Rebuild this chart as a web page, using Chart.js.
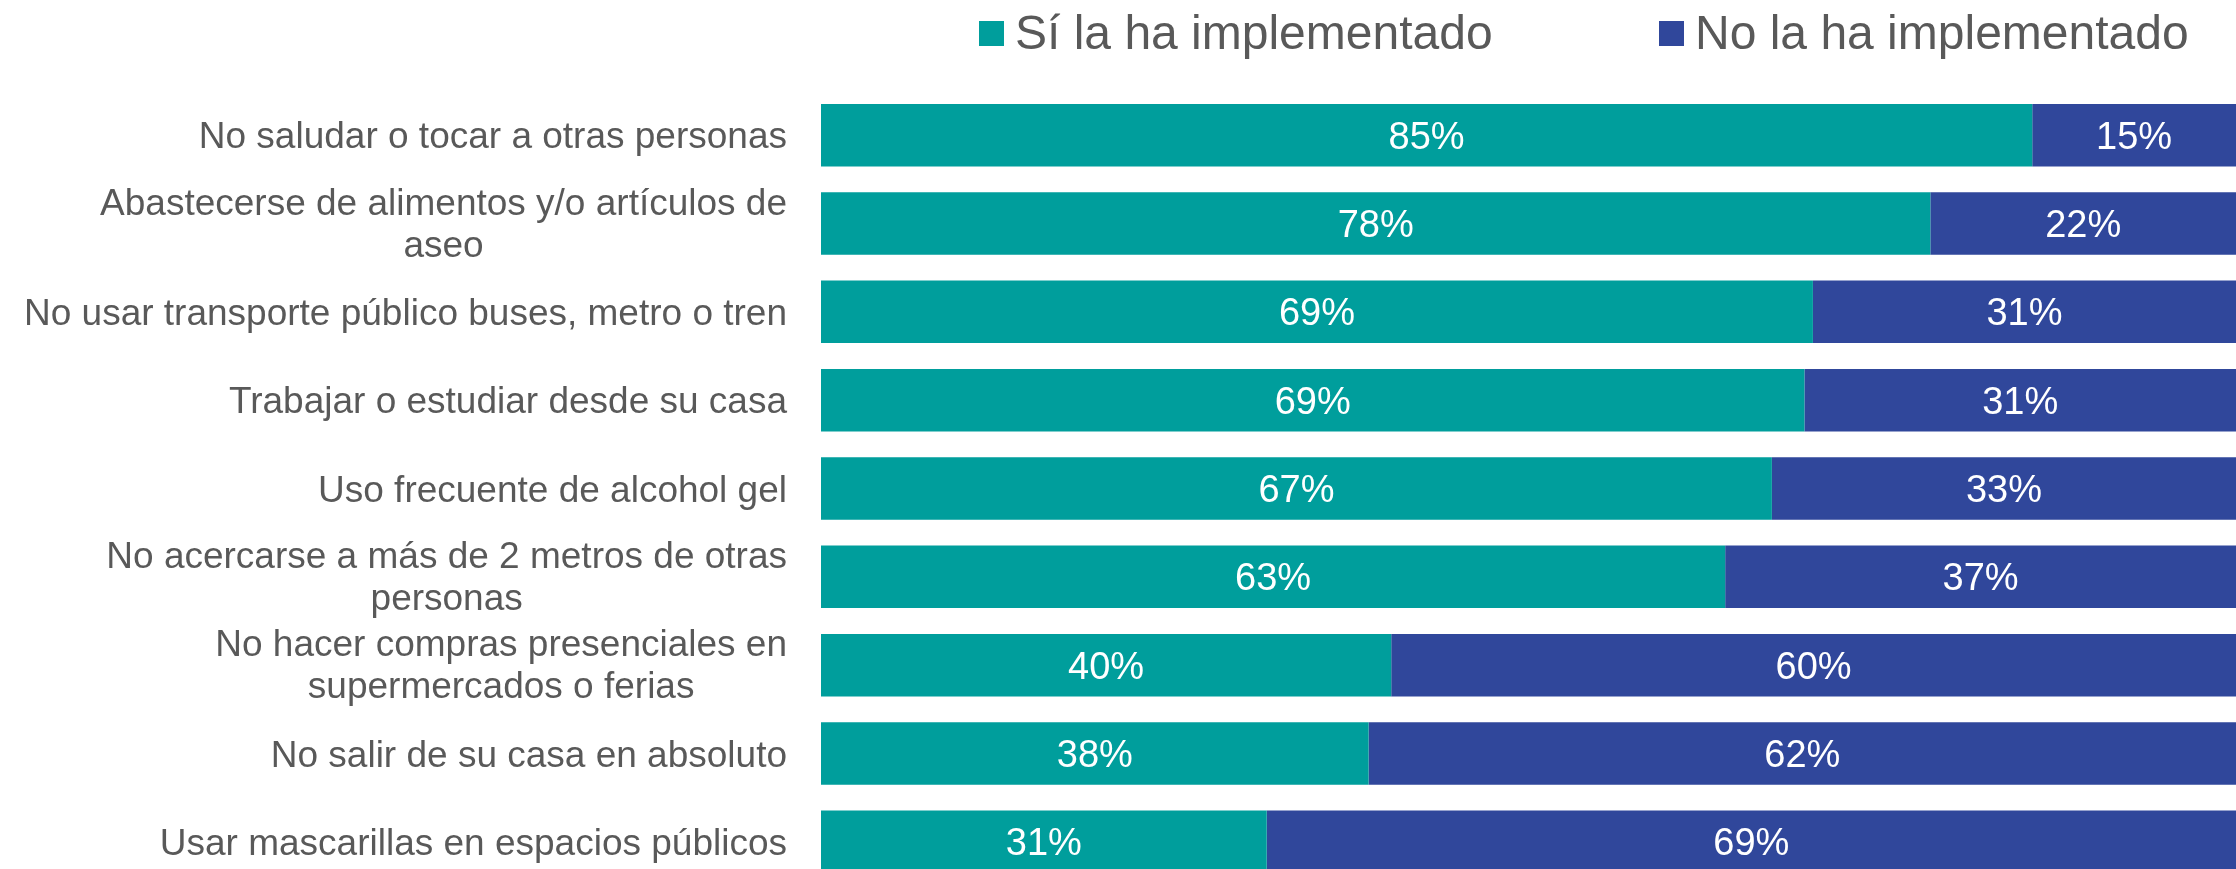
<!DOCTYPE html>
<html>
<head>
<meta charset="utf-8">
<script src="https://cdn.jsdelivr.net/npm/chart.js@4.4.1/dist/chart.umd.min.js"></script>
<style>
    html, body { margin: 0; padding: 0; background: #ffffff; overflow: hidden; }
    #wrap { width: 2236px; height: 869px; overflow: hidden; }
</style>
</head>
<body>
<div id="wrap"><canvas id="medidasChart" width="2236" height="886"></canvas></div>
<script>
var categorias = [
    ['No saludar o tocar a otras personas'],
    ['Abastecerse de alimentos y/o artículos de', 'aseo'],
    ['No usar transporte público buses, metro o tren'],
    ['Trabajar o estudiar desde su casa'],
    ['Uso frecuente de alcohol gel'],
    ['No acercarse a más de 2 metros de otras', 'personas'],
    ['No hacer compras presenciales en', 'supermercados o ferias'],
    ['No salir de su casa en absoluto'],
    ['Usar mascarillas en espacios públicos']
];

var valoresSi = [85.6, 78.4, 70.1, 69.5, 67.2, 63.9, 40.3, 38.7, 31.5];
var valoresNo = [14.4, 21.6, 29.9, 30.5, 32.8, 36.1, 59.7, 61.3, 68.5];

var etiquetasSi = ['85%', '78%', '69%', '69%', '67%', '63%', '40%', '38%', '31%'];
var etiquetasNo = ['15%', '22%', '31%', '31%', '33%', '37%', '60%', '62%', '69%'];

var nombresSeries = ['Sí la ha implementado', 'No la ha implementado'];
var coloresSeries = ['#009e9c', '#30479b'];

var fuente = '"Liberation Sans", Arial, sans-serif';
var colorTexto = '#595959';

// etiquetas blancas dentro de cada segmento
var etiquetasBarras = {
    id: 'etiquetasBarras',
    afterDatasetsDraw: function (chart) {
        var ctx = chart.ctx;
        ctx.save();
        ctx.font = '38px ' + fuente;
        ctx.fillStyle = '#ffffff';
        ctx.textAlign = 'center';
        ctx.textBaseline = 'middle';
        chart.data.datasets.forEach(function (ds, i) {
            var textos = i === 0 ? etiquetasSi : etiquetasNo;
            chart.getDatasetMeta(i).data.forEach(function (bar, j) {
                var c = bar.getCenterPoint();
                ctx.fillText(textos[j], c.x, c.y + 3);
            });
        });
        ctx.restore();
    }
};

// categorias: bloque alineado a la derecha, lineas centradas entre si
var etiquetasCategorias = {
    id: 'etiquetasCategorias',
    afterDraw: function (chart) {
        var ctx = chart.ctx,
            escalaY = chart.scales.y,
            derecha = chart.chartArea.left - 34,
            alto = 42;
        ctx.save();
        ctx.font = '37px ' + fuente;
        ctx.fillStyle = colorTexto;
        ctx.textAlign = 'center';
        ctx.textBaseline = 'middle';
        categorias.forEach(function (lineas, i) {
            var yc = escalaY.getPixelForValue(i);
            var ancho = 0;
            lineas.forEach(function (l) {
                ancho = Math.max(ancho, ctx.measureText(l).width);
            });
            var xc = derecha - ancho / 2;
            var dy = lineas.length > 1 ? 2 : 3;
            lineas.forEach(function (l, k) {
                ctx.fillText(l, xc, yc + dy + (k - (lineas.length - 1) / 2) * alto);
            });
        });
        ctx.restore();
    }
};

// leyenda superior
var leyendaSuperior = {
    id: 'leyendaSuperior',
    afterDraw: function (chart) {
        var ctx = chart.ctx;
        var posiciones = [979, 1659];
        ctx.save();
        ctx.font = '48px ' + fuente;
        ctx.textBaseline = 'alphabetic';
        ctx.textAlign = 'left';
        chart.data.datasets.forEach(function (ds, i) {
            var x = posiciones[i];
            ctx.fillStyle = ds.backgroundColor;
            ctx.fillRect(x, 21, 25, 25);
            ctx.fillStyle = colorTexto;
            ctx.fillText(ds.label, x + 36, 49);
        });
        ctx.restore();
    }
};

var medidasChart = new Chart(document.getElementById('medidasChart').getContext('2d'), {
    type: 'bar',
    data: {
        labels: categorias,
        datasets: [{
            label: nombresSeries[0],
            data: valoresSi,
            backgroundColor: coloresSeries[0]
        }, {
            label: nombresSeries[1],
            data: valoresNo,
            backgroundColor: coloresSeries[1]
        }]
    },
    options: {
        indexAxis: 'y',
        responsive: false,
        animation: false,
        layout: { padding: { top: 91, left: 0, right: 0, bottom: 0 } },
        datasets: {
            bar: {
                categoryPercentage: 1,
                barPercentage: 0.7075,
                borderWidth: 0
            }
        },
        scales: {
            x: {
                stacked: true,
                min: 0,
                max: 100,
                display: false
            },
            y: {
                stacked: true,
                grid: { display: false },
                border: { display: false },
                ticks: { display: false },
                afterFit: function (scale) {
                    scale.width = 821;
                }
            }
        },
        plugins: {
            legend: { display: false },
            tooltip: { enabled: false }
        }
    },
    plugins: [etiquetasBarras, etiquetasCategorias, leyendaSuperior]
});
</script>
</body>
</html>
